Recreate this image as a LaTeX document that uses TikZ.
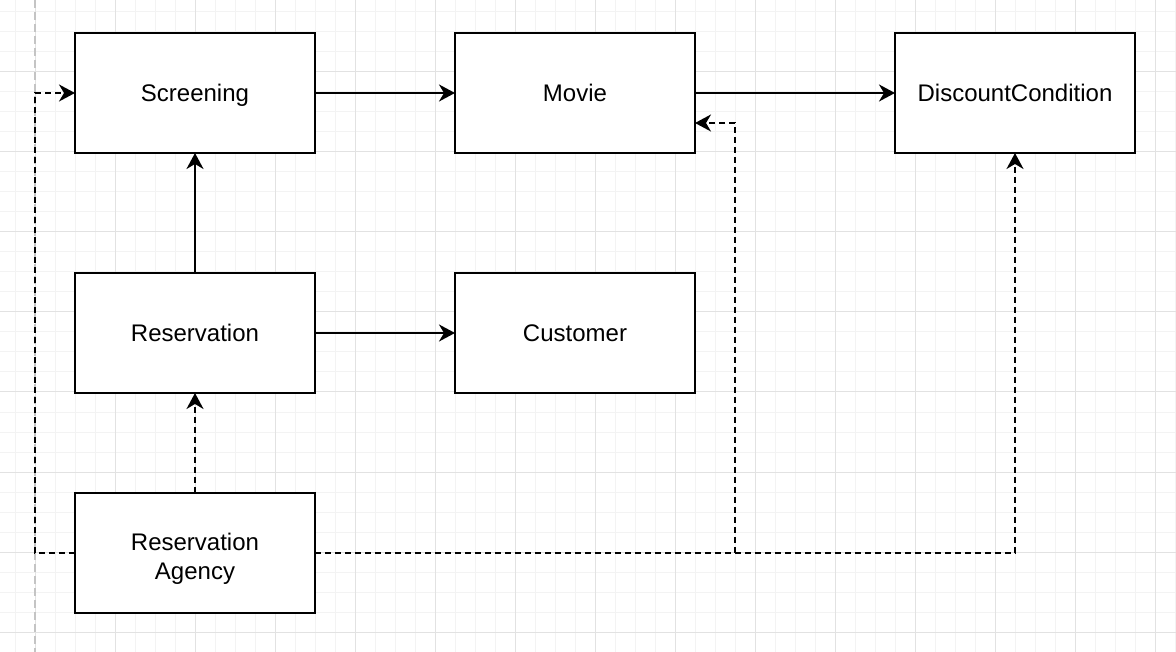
\documentclass[tikz,border=0pt]{standalone}
\usepackage{fontspec}
\setmainfont{Liberation Sans}
\usetikzlibrary{calc,arrows.meta,positioning}

\definecolor{minorgrid}{HTML}{F3F3F3}
\definecolor{majorgrid}{HTML}{E2E2E2}
\definecolor{pageline}{HTML}{C4C4C4}

\begin{document}
\begin{tikzpicture}[x=1pt, y=-1pt, >={Stealth[length=16pt, width=17pt, inset=5pt]}]
	    \tikzstyle{box}=[draw=black, line width=2pt, fill=white, minimum width=240pt, minimum height=120pt, inner sep=0pt, outer sep=0pt, align=center, font=\fontsize{24}{28.8}\selectfont, execute at begin node={\rule[-5.1pt]{0pt}{27.4pt}}]
	    \tikzstyle{assoc}=[->, line width=2pt]
	    \tikzstyle{dep}=[->, line width=2pt, dash pattern=on 6pt off 4pt]

	    \useasboundingbox[fill=white] (0,0) rectangle (1176,652);

	    % grid
	    \foreach \gx in {15,35,...,1175} \draw[minorgrid, line width=1pt] (\gx,0) -- (\gx,652);
	    \foreach \gy in {12,32,...,652} \draw[minorgrid, line width=1pt] (0,\gy) -- (1176,\gy);
	    \foreach \gx in {35,115,...,1155} \draw[majorgrid, line width=1pt] (\gx,0) -- (\gx,652);
	    \foreach \gy in {72,152,...,632} \draw[majorgrid, line width=1pt] (0,\gy) -- (1176,\gy);
	    \draw[pageline, line width=2pt, dash pattern=on 8pt off 4pt] (35,0) -- (35,652);

	    \node[box] (screening) at (195,93) {Screening};
	    \node[box] (movie) [right=140pt of screening] {Movie};
	    \node[box] (discount) [right=200pt of movie] {DiscountCondition};
	    \node[box] (reservation) [below=120pt of screening] {Reservation};
	    \node[box] (customer) [right=140pt of reservation] {Customer};
	    \node[box] (agency) [below=100pt of reservation] {Reservation\rule{0pt}{28.6pt}\\Agency};

	    \coordinate (split) at ($(agency.east -| movie.east)+(40,0)$);
	    \coordinate (movie in) at ($(movie.east)!0.5!(movie.south east)$);

	    \path[assoc]
	    (screening)		edge 	(movie)
	    (movie)			edge 	(discount)
	    (reservation)	edge 	(screening)
	    (reservation)	edge 	(customer)
	    ;

	    \draw[dep] (agency) -- (reservation);
	    \draw[dep] (agency.west) -- ++(-40,0) |- (screening.west);
	    \draw[dep] (agency.east) -| (discount.south);
	    \draw[dep] (split) |- (movie in);
    
    \end{tikzpicture}
\end{document}
